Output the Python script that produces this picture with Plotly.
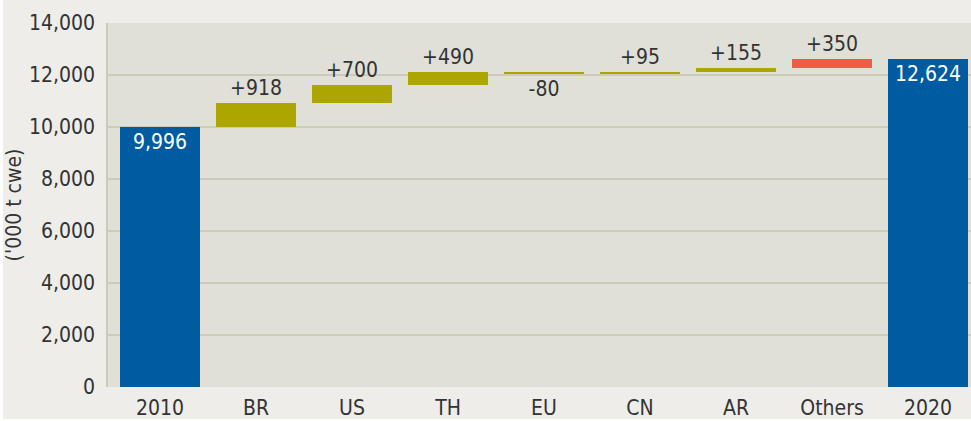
import plotly.graph_objects as go

categories = ["2010", "BR", "US", "TH", "EU", "CN", "AR", "Others", "2020"]
changes = [9996, 918, 700, 490, -80, 95, 155, 350, 12624]
kinds = ["total", "delta", "delta", "delta", "delta", "delta", "delta", "other", "total"]
y_ticks = [0, 2000, 4000, 6000, 8000, 10000, 12000, 14000]

colors_by_kind = {"total": "#005BA1", "delta": "#ADA500", "other": "#F15A45"}

bases, heights, texts, positions, colors = [], [], [], [], []
running = 0
for v, k in zip(changes, kinds):
    if k == "total":
        bases.append(0)
        heights.append(v)
        running = v
        texts.append(f"{v:,}")
        positions.append("inside")
    else:
        bases.append(running)
        heights.append(v)
        running += v
        texts.append(f"{v:+,}")
        positions.append("outside")
    colors.append(colors_by_kind[k])

font_family = "DejaVu Sans Condensed, DejaVu Sans, sans-serif"
FS = 21
W, H = 971, 421
ML, MR, MT, MB = 108, 0, 23, 34
PW, PH = W - ML - MR, H - MT - MB

fig = go.Figure(go.Bar(
    x=list(range(len(categories))),
    y=heights,
    base=bases,
    width=0.833,
    marker=dict(color=colors, line=dict(width=0)),
    text=texts,
    textposition=positions,
    insidetextanchor="end",
    insidetextfont=dict(color="white", size=FS, family=font_family),
    outsidetextfont=dict(color="#333333", size=FS, family=font_family),
    cliponaxis=False,
    hoverinfo="skip",
))

fig.update_layout(
    width=W, height=H,
    margin=dict(l=ML, r=MR, t=MT, b=MB),
    paper_bgcolor="#EEEDE9",
    plot_bgcolor="#E0E0D8",
    font=dict(family=font_family, size=FS, color="#333333"),
    showlegend=False,
    bargap=0,
    uniformtext=dict(minsize=10, mode="show"),
    shapes=[
        dict(type="rect", xref="paper", yref="paper", layer="above",
             x0=-ML / PW, x1=-(ML - 3) / PW, y0=-MB / PH, y1=(PH + MT) / PH,
             fillcolor="white", line=dict(width=0)),
        dict(type="rect", xref="paper", yref="paper", layer="above",
             x0=-ML / PW, x1=1, y0=-MB / PH, y1=-(MB - 2) / PH,
             fillcolor="white", line=dict(width=0)),
    ],
)
fig.update_xaxes(
    tickmode="array",
    tickvals=list(range(len(categories))),
    ticktext=categories,
    range=[-0.542, 8.448],
    showgrid=False,
    zeroline=False,
    showline=False,
    ticks="",
    ticklabelstandoff=6,
    tickfont=dict(size=FS, color="#333333"),
)
fig.update_yaxes(
    range=[0, 14000],
    tickvals=y_ticks,
    tickformat=",",
    showgrid=True,
    gridcolor="#CBCBB8",
    gridwidth=1.5,
    zeroline=False,
    showline=True,
    linecolor="#CBCBB8",
    linewidth=1.5,
    ticks="",
    ticklabelstandoff=7,
    tickfont=dict(size=FS, color="#333333"),
    title=dict(text="('000 t cwe)", font=dict(size=FS, color="#333333"), standoff=2),
)

fig.write_html("out.html", config={"displayModeBar": False},
               post_script="document.body.style.margin='0';")
